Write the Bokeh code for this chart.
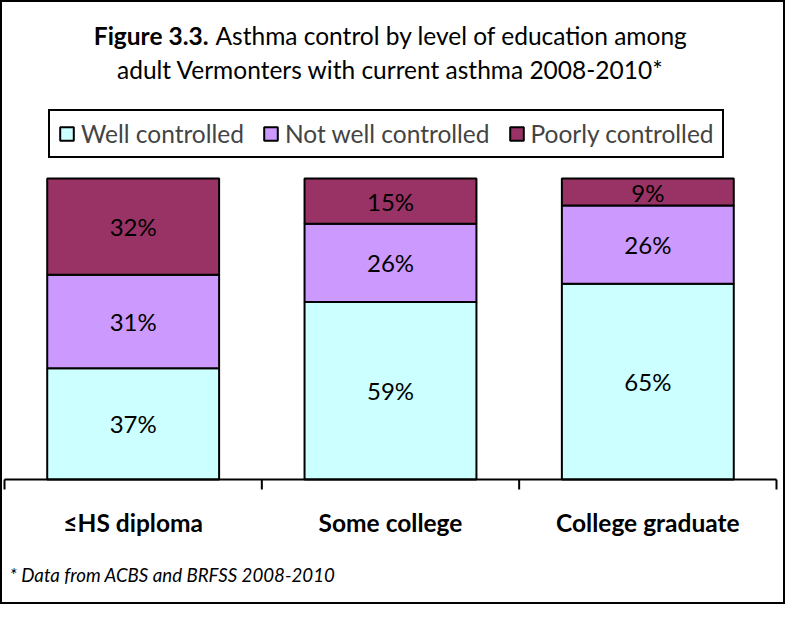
from bokeh.plotting import figure
from bokeh.models import Range1d, Label, Legend, LegendItem, ColumnDataSource
from bokeh.embed import file_html
from bokeh.resources import INLINE
from bokeh.core.properties import value

# ---------------- data ----------------
categories = ["≤HS diploma", "Some college", "College graduate"]
series = ["Well controlled", "Not well controlled", "Poorly controlled"]
well = [37, 59, 65]
not_well = [31, 26, 26]
poorly = [32, 15, 9]
colors = ["#CCFFFF", "#CC99FF", "#993366"]

title_bold = "Figure 3.3."
title_rest = "Asthma control by level of education among"
title_line2 = "adult Vermonters with current asthma 2008-2010*"
footnote = "* Data from ACBS and BRFSS 2008-2010"

# ---------------- layout (canvas pixels) ----------------
W, H = 785, 604
x0_px = 4.0          # left edge of first category slot
cat_px = 257.33      # width of one category slot
y0_px = 125.0        # 0% line, measured from canvas bottom
pct_px = 3.01        # pixels per percent
FONT = "Lato"
FS = "24.5px"

x_start = -x0_px / cat_px
x_end = x_start + W / cat_px
y_start = -y0_px / pct_px
y_end = y_start + H / pct_px

p = figure(width=W, height=H, x_range=Range1d(x_start, x_end),
           y_range=Range1d(y_start, y_end), output_backend="svg",
           toolbar_location=None, min_border=0,
           x_axis_location=None, y_axis_location=None)
p.grid.visible = False
p.outline_line_color = "black"
p.outline_line_width = 3
p.outline_line_alpha = 1
p.background_fill_color = "white"
p.border_fill_color = "white"

xs = [i + 0.5 for i in range(len(categories))]
src = ColumnDataSource(dict(x=xs, well=well, not_well=not_well, poorly=poorly))
keys = ["well", "not_well", "poorly"]
rends = p.vbar_stack(keys, x="x", width=0.668, source=src,
                     fill_color=colors, line_color="black", line_width=2)

# value labels
lx, ly, lt = [], [], []
for i in range(len(categories)):
    base = 0
    for vals in (well, not_well, poorly):
        v = vals[i]
        lx.append(xs[i]); ly.append(base + v / 2); lt.append(f"{v}%")
        base += v
p.text(x=lx, y=ly, text=lt, text_font=value(FONT), text_font_size="24px",
       text_align="center", text_baseline="middle", text_color="black")

# axis line with boundary ticks
n = len(categories)
bounds = list(range(n + 1))
tick = 10 / pct_px
p.segment(x0=[0], y0=[0], x1=[n], y1=[0], line_color="black", line_width=2)
p.segment(x0=bounds, y0=[0] * len(bounds), x1=bounds, y1=[-tick] * len(bounds),
          line_color="black", line_width=2)

# category labels
p.text(x=xs, y=[0] * n, text=categories, y_offset=43, text_font=value(FONT),
       text_font_style="bold", text_font_size=FS, text_align="center",
       text_baseline="middle", text_color="black")

# legend
legend = Legend(items=[LegendItem(label=s, renderers=[r]) for s, r in zip(series, rends)],
                location=(48, 446), orientation="horizontal",
                border_line_color="black", border_line_width=2, border_line_alpha=1,
                background_fill_color="white", background_fill_alpha=1,
                label_text_font=FONT, label_text_font_size=FS,
                glyph_width=17, glyph_height=17, label_standoff=6,
                spacing=18, padding=8, margin=0)
p.add_layout(legend)

# titles
common = dict(x_units="screen", y_units="screen", text_font=FONT,
              text_font_size=FS, text_color="black", text_baseline="middle")
p.add_layout(Label(x=208, y=569, text=title_bold, text_font_style="bold",
                   text_align="right", **common))
p.add_layout(Label(x=215, y=569, text=title_rest, text_align="left", **common))
p.add_layout(Label(x=390, y=535, text=title_line2, text_align="center", **common))

p.add_layout(Label(x=9, y=30, text=footnote, x_units="screen", y_units="screen",
                   text_font=FONT, text_font_size="18.7px", text_font_style="italic",
                   text_align="left", text_baseline="middle", text_color="black"))

open("out.html", "w").write(file_html(p, INLINE))
